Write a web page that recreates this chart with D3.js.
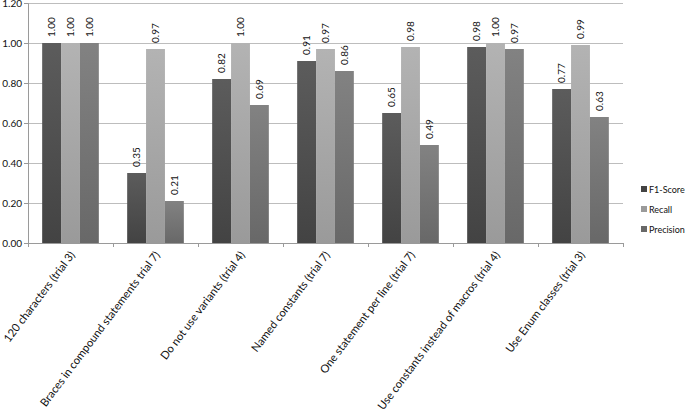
<!DOCTYPE html>
<html><head><meta charset="utf-8">
<script src="https://cdn.jsdelivr.net/npm/d3@7"></script>
<style>body{margin:0;background:#fff}svg{display:block}</style>
</head><body>
<script>
const categories = ["120 characters (trial 3)","Braces in compound statements trial 7)","Do not use variants (trial 4)","Named constants (trial 7)","One statement per line (trial 7)","Use constants instead of macros (trial 4)","Use Enum classes (trial 3)"];
const seriesNames = ["F1-Score","Recall","Precision"];
const f1 = [1.00,0.35,0.82,0.91,0.65,0.98,0.77];
const recall = [1.00,0.97,1.00,0.97,0.98,1.00,0.99];
const precision = [1.00,0.21,0.69,0.86,0.49,0.97,0.63];
const yTicks = [0,0.2,0.4,0.6,0.8,1.0,1.2];

const W=685,H=419;
const m={l:28,r:62,t:3,b:176};
const svg=d3.select("body").append("svg").attr("width",W).attr("height",H);
const font="Lato, 'Open Sans', sans-serif";
const defs=svg.append("defs");
const cols=[["#5c5c5c","#434343"],["#b3b3b3","#9a9a9a"],["#828282","#686868"]];
cols.forEach((c,i)=>{const g=defs.append("linearGradient").attr("id","g"+i).attr("x1",0).attr("y1",0).attr("x2",0).attr("y2",1);
g.append("stop").attr("offset","0%").attr("stop-color",c[0]);g.append("stop").attr("offset","100%").attr("stop-color",c[1]);});

const x=d3.scaleBand().domain(categories).range([m.l,623]).paddingInner(0).paddingOuter(0);
const y=d3.scaleLinear().domain([0,1.2]).range([243,3]);
const inner=d3.scaleBand().domain(seriesNames).range([0,x.bandwidth()]).paddingInner(0).paddingOuter(0.75);

// grid
svg.append("g").selectAll("line").data(yTicks).join("line")
 .attr("x1",m.l).attr("x2",623).attr("y1",d=>y(d)).attr("y2",d=>y(d))
 .attr("stroke","#bdbdbd").attr("stroke-width",1).attr("shape-rendering","crispEdges");

const data=[f1,recall,precision];
const g=svg.append("g");
categories.forEach((c,ci)=>{
 seriesNames.forEach((s,si)=>{
  const v=data[si][ci];
  const bx=x(c)+inner(s), bw=inner.bandwidth();
  g.append("rect").attr("x",bx).attr("y",y(v)).attr("width",bw).attr("height",y(0)-y(v)).attr("fill",`url(#g${si})`);
  const tx=bx+bw/2+3.5, ty=y(v)-6;
  g.append("text").attr("transform",`translate(${tx},${ty}) rotate(-90)`).attr("font-family",font).attr("font-size",10).attr("fill","#111").text(v.toFixed(2));
 });
});

// axes
const yAxis=d3.axisLeft(y).tickValues(yTicks).tickSize(4).tickFormat(d3.format(".2f"));
const ya=svg.append("g").attr("transform",`translate(${m.l},0)`).call(yAxis);
ya.select(".domain").attr("stroke","#9a9a9a");
ya.selectAll(".tick line").attr("stroke","#9a9a9a");
ya.selectAll("text").attr("font-family",font).attr("font-size",10).attr("fill","#111").attr("x",-6);

const xAxis=d3.axisBottom(x).tickSize(0).tickFormat("");
const xa=svg.append("g").attr("transform",`translate(0,243)`).call(xAxis);
xa.select(".domain").attr("stroke","#9a9a9a");
svg.append("g").selectAll("line").data(d3.range(categories.length+1)).join("line")
 .attr("x1",i=>m.l+i*x.bandwidth()).attr("x2",i=>m.l+i*x.bandwidth()).attr("y1",243).attr("y2",247)
 .attr("stroke","#9a9a9a").attr("shape-rendering","crispEdges");

svg.append("g").selectAll("text").data(categories).join("text")
 .attr("transform",d=>`translate(${x(d)+x.bandwidth()/2+5},${255}) rotate(-53)`)
 .attr("text-anchor","end").attr("font-family",font).attr("font-size",11.2).attr("fill","#111").text(d=>d);

// legend
const lg=svg.append("g");
seriesNames.forEach((s,i)=>{
 const ly=189+i*20;
 lg.append("rect").attr("x",641).attr("y",ly-3).attr("width",6).attr("height",6).attr("fill",cols[i][1]);
 lg.append("text").attr("x",649).attr("y",ly+3.5).attr("font-family",font).attr("font-size",9).attr("fill","#111").text(s);
});
</script>
</body></html>
